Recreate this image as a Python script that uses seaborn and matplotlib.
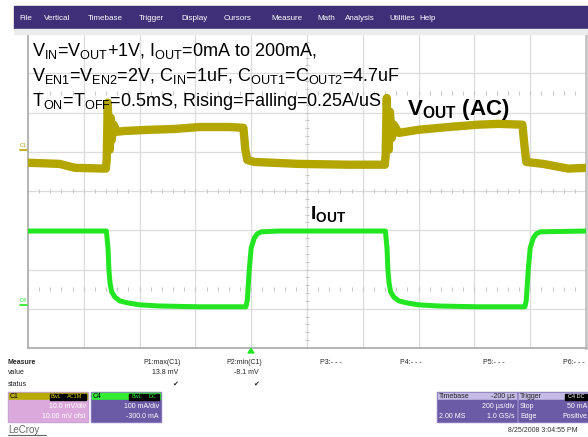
import numpy as np
import pandas as pd
import matplotlib
matplotlib.use("Agg")
import matplotlib.pyplot as plt
import seaborn as sns
from matplotlib.patches import Rectangle, Polygon

# ---------------- data ----------------
# time in microseconds (trigger at 0, 200 us/div)
vout_t = [-800, -686, -632, -521, -518, -514, -511, -507, -503, -500, -493, -482,
          -453, -364, -275, -186, -78, -28, -21, -14, 11, 172, 350, 479, 482, 486,
          489, 493, 497, 504, 511, 529, 600, 707, 814, 886, 972, 979, 986, 1047,
          1136, 1200]
# C1: Vout AC-coupled, mV
vout_mv = [-3.8, -4.1, -5.1, -5.3, -3.1, 11.5, 2.0, -0.5, 7.6, 2.0, 5.9, 4.1,
           4.3, 4.6, 4.8, 5.3, 5.3, 5.1, -0.5, -3.1, -3.6, -4.1, -4.3, -4.3, -1.8, 12.7,
           3.3, -0.5, 9.2, 2.5, 5.9, 3.8, 4.6, 5.3, 5.9, 6.1, 5.9, 0.8, -3.6, -4.1,
           -5.3, -5.1]
iout_t = [-800, -519, -513, -510, -506, -500, -489, -471, -443, -400, -328, -186,
          -19, -14, -7, 0, 11, 22, 36, 100, 478, 481, 487, 490, 494, 500, 511, 529,
          557, 600, 672, 814, 981, 986, 993, 1000, 1011, 1022, 1036, 1200]
# C4: Iout, mA
iout_ma = [191, 191, 145, 92, 59, 36, 23, 13, 8, 3, 0, -2,
           -2, 15, 92, 148, 173, 184, 189, 191, 191, 191, 145, 92, 59, 36, 23, 13,
           8, 3, 0, -2, -2, 15, 92, 148, 173, 184, 189, 191]

menu_items = ["File", "Vertical", "Timebase", "Trigger", "Display", "Cursors",
              "Measure", "Math", "Analysis", "Utilities", "Help"]
menu_x = [19, 44, 88, 139, 181, 224, 271, 317, 345, 389, 419]

meas_labels = ["P1:max(C1)", "P2:min(C1)", "P3:- - -", "P4:- - -", "P5:- - -", "P6:- - -"]
meas_values = ["13.8 mV", "-8.1 mV", "", "", "", ""]

# ---------------- style ----------------
sns.set_theme(style="white")
plt.rcParams['font.family'] = ['Liberation Sans', 'DejaVu Sans']
plt.rcParams['mathtext.fontset'] = 'custom'
plt.rcParams['mathtext.rm'] = 'Liberation Sans'
plt.rcParams['mathtext.it'] = 'Liberation Sans'
plt.rcParams['mathtext.bf'] = 'Liberation Sans:bold'
plt.rcParams['mathtext.default'] = 'regular'

YELLOW = "#b3a600"
GREEN = "#22e622"
PURPLE_BAR = "#3f2f78"
GRID = "#dcdcdc"

W, H = 588, 437
fig = plt.figure(figsize=(W / 100, H / 100), dpi=100)
fig.patch.set_facecolor("white")


def fx(x):
    return x / W


def fy(y):
    return 1 - y / H


# menu bar
fig.patches.append(Rectangle((fx(14), fy(29)), fx(588) - fx(14), fy(6) - fy(29),
                             transform=fig.transFigure, color=PURPLE_BAR, zorder=0))
fig.patches.append(Rectangle((fx(14), fy(34)), fx(588) - fx(14), fy(29) - fy(34),
                             transform=fig.transFigure, color="#ececec", zorder=0))
for name, x in zip(menu_items, menu_x):
    fig.text(fx(x), fy(18), name, color="white", fontsize=5.8, va="center", ha="left")

# ---------------- scope grid ----------------
ax = fig.add_axes([fx(28), fy(348), fx(586) - fx(28), fy(34) - fy(348)])
ax.set_facecolor("white")
for k in range(1, 10):
    ax.axvline(-800 + 200 * k, color=GRID, lw=0.9, zorder=1)
for k in range(1, 8):
    ax.axhline(k, color=GRID, lw=0.9, zorder=1)
# tick rows
tx = np.arange(-800, 1201, 40)
for yrow in (6.5, 4.0, 1.5):
    ax.plot(tx, np.full_like(tx, yrow, dtype=float), ls="none", marker="|",
            ms=2.5, mew=0.8, color="#c8c8c8", zorder=1)
ty = np.arange(0, 8.01, 0.2)
ax.plot(np.full_like(ty, 200.0), ty, ls="none", marker="_", ms=2.5, mew=0.8,
        color="#c8c8c8", zorder=1)

C1_POS, C4_POS = 5.10, 1.07
MV_PER_DIV, MA_PER_DIV = 10.0, 100.0
df_v = pd.DataFrame({"t": vout_t, "div": [C1_POS + v / MV_PER_DIV for v in vout_mv]})
df_i = pd.DataFrame({"t": iout_t, "div": [C4_POS + i / MA_PER_DIV for i in iout_ma]})

sns.lineplot(data=df_v, x="t", y="div", ax=ax, color=YELLOW, linewidth=6.0,
             estimator=None, sort=False, zorder=3, solid_joinstyle="round")
sns.lineplot(data=df_i, x="t", y="div", ax=ax, color=GREEN, linewidth=3.6,
             estimator=None, sort=False, zorder=3, solid_joinstyle="round")
ax.set_xlabel("")
ax.set_ylabel("")
ax.set_xlim(-800, 1200)
ax.set_ylim(0, 8)
ax.set_xticks([])
ax.set_yticks([])
for s in ("left", "bottom"):
    ax.spines[s].set_color("#a8a8a8")
    ax.spines[s].set_linewidth(1.2)
ax.spines["top"].set_color("#e4e4e4")
ax.spines["right"].set_color("#c4c4c4")
ax.spines["right"].set_linewidth(2)

# channel markers
fig.text(fx(20), fy(148), "C1", color=YELLOW, fontsize=4, va="bottom", ha="left", rotation=0)
fig.lines.append(plt.Line2D([fx(20), fx(27)], [fy(149.5), fy(149.5)], transform=fig.transFigure,
                            color=YELLOW, lw=1.2))
fig.text(fx(20), fy(303), "C4", color=GREEN, fontsize=4, va="bottom", ha="left", rotation=0)
fig.lines.append(plt.Line2D([fx(20), fx(27)], [fy(305), fy(305)], transform=fig.transFigure,
                            color=GREEN, lw=1.2))

# annotations
fig.text(fx(32), fy(56), r"V$_{IN}$=V$_{OUT}$+1V, I$_{OUT}$=0mA to 200mA,", fontsize=13,
         color="black", va="baseline")
fig.text(fx(32), fy(81), r"V$_{EN1}$=V$_{EN2}$=2V, C$_{IN}$=1uF, C$_{OUT1}$=C$_{OUT2}$=4.7uF",
         fontsize=13, color="black", va="baseline")
fig.text(fx(32), fy(106), r"T$_{ON}$=T$_{OFF}$=0.5mS, Rising=Falling=0.25A/uS", fontsize=13,
         color="black", va="baseline")
fig.text(fx(407), fy(115), r"$\mathbf{V_{OUT}}$ $\mathbf{(AC)}$", fontsize=16, color="black",
         va="baseline")
fig.text(fx(310), fy(219), r"$\mathbf{I_{OUT}}$", fontsize=14, color="black", va="baseline")

# ---------------- bottom status area ----------------
fig.patches.append(Polygon([[fx(248), fy(353)], [fx(254), fy(353)], [fx(251), fy(348.5)]],
                           closed=True, transform=fig.transFigure, color=GREEN))
fs = 5
fig.text(fx(8), fy(362), "Measure", fontsize=fs, fontweight="bold", va="center")
fig.text(fx(8), fy(373), "value", fontsize=fs, va="center", color="#222222")
fig.text(fx(8), fy(384), "status", fontsize=fs, va="center", color="#222222")
lab_x = [181, 262, 320, 400, 483, 563]
for i, (lab, val) in enumerate(zip(meas_labels, meas_values)):
    if i < 2:
        fig.text(fx(lab_x[i]), fy(362), lab, fontsize=fs, va="center", ha="right", color="#222222")
        fig.text(fx(lab_x[i] - 3), fy(373), val, fontsize=fs, va="center", ha="right", color="#222222")
        fig.text(fx(lab_x[i] - 3), fy(384), "\u2714", fontsize=fs, va="center", ha="right",
                 color="#222222", family=["DejaVu Sans"])
    else:
        fig.text(fx(lab_x[i]), fy(363), lab, fontsize=fs, va="center", ha="left", color="#222222")


def box(x0, x1, y0, y1, color, z=1):
    fig.patches.append(Rectangle((fx(x0), fy(y1)), fx(x1) - fx(x0), fy(y0) - fy(y1),
                                 transform=fig.transFigure, color=color, zorder=z))


# C1 box
box(8, 88, 392, 422, "#c8a3d6")
box(9, 87, 393, 400, "#b8ab00", 2)
box(9, 87, 400, 421, "#dba9dc", 2)
fig.text(fx(10), fy(396.5), "C1", fontsize=fs, va="center", color="black", zorder=3)
box(50, 62, 393.5, 399.5, "black", 3)
box(63, 86, 393.5, 399.5, "black", 3)
fig.text(fx(56), fy(396.5), "BwL", fontsize=4, va="center", ha="center", color="#d8cc00", zorder=4)
fig.text(fx(74.5), fy(396.5), "AC1M", fontsize=4, va="center", ha="center", color="#d8cc00", zorder=4)
fig.text(fx(86), fy(407), "10.0 mV/div", fontsize=fs, va="center", ha="right", color="white", zorder=4)
fig.text(fx(86), fy(416), "10.00 mV ofst", fontsize=fs, va="center", ha="right", color="white", zorder=4)

# C4 box
box(91, 161, 392, 422, "#8e7fc2")
box(92, 160, 393, 400, "#33ee33", 2)
box(92, 160, 400, 421, "#6b5aa6", 2)
fig.text(fx(93), fy(396.5), "C4", fontsize=fs, va="center", color="black", zorder=3)
box(129, 144, 393.5, 399.5, "black", 3)
box(145, 159, 393.5, 399.5, "black", 3)
fig.text(fx(136.5), fy(396.5), "BwL", fontsize=4, va="center", ha="center", color="#33ee33", zorder=4)
fig.text(fx(152), fy(396.5), "DC", fontsize=4, va="center", ha="center", color="#33ee33", zorder=4)
fig.text(fx(159), fy(407), "100 mA/div", fontsize=fs, va="center", ha="right", color="white", zorder=4)
fig.text(fx(159), fy(416), "-300.0 mA", fontsize=fs, va="center", ha="right", color="white", zorder=4)

# Timebase box
box(437, 517, 392, 422, "#8e7fc2")
box(438, 516, 393, 400, "#c4bce4", 2)
box(438, 516, 400, 421, "#6b5aa6", 2)
fig.text(fx(439), fy(396.5), "Timebase", fontsize=fs, va="center", color="#222222", zorder=3)
fig.text(fx(515), fy(396.5), "-200 \u00b5s", fontsize=fs, va="center", ha="right", color="#222222", zorder=3)
fig.text(fx(515), fy(407), "200 \u00b5s/div", fontsize=fs, va="center", ha="right", color="white", zorder=3)
fig.text(fx(439), fy(416), "2.00 MS", fontsize=fs, va="center", color="white", zorder=3)
fig.text(fx(515), fy(416), "1.0 GS/s", fontsize=fs, va="center", ha="right", color="white", zorder=3)

# Trigger box
box(518, 588, 392, 422, "#8e7fc2")
box(519, 588, 393, 400, "#c4bce4", 2)
box(519, 588, 400, 421, "#6b5aa6", 2)
fig.text(fx(520), fy(396.5), "Trigger", fontsize=fs, va="center", color="#222222", zorder=3)
box(565, 587, 393.5, 399.5, "black", 3)
fig.text(fx(576), fy(396.5), "C4 DC", fontsize=4, va="center", ha="center", color="white", zorder=4)
fig.text(fx(520), fy(407), "Stop", fontsize=fs, va="center", color="white", zorder=3)
fig.text(fx(587), fy(407), "50 mA", fontsize=fs, va="center", ha="right", color="white", zorder=3)
fig.text(fx(520), fy(416), "Edge", fontsize=fs, va="center", color="white", zorder=3)
fig.text(fx(587), fy(416), "Positive", fontsize=fs, va="center", ha="right", color="white", zorder=3)

fig.text(fx(578), fy(431), "8/25/2008 3:04:55 PM", fontsize=fs, va="center", ha="right", color="#333333")
fig.text(fx(8), fy(430), "LeCroy", fontsize=7, va="center", ha="left", color="#666666")
fig.lines.append(plt.Line2D([fx(8), fx(46)], [fy(435), fy(435)], transform=fig.transFigure,
                            color="#666666", lw=0.8))

fig.savefig("out.png", dpi=100, facecolor="white")
